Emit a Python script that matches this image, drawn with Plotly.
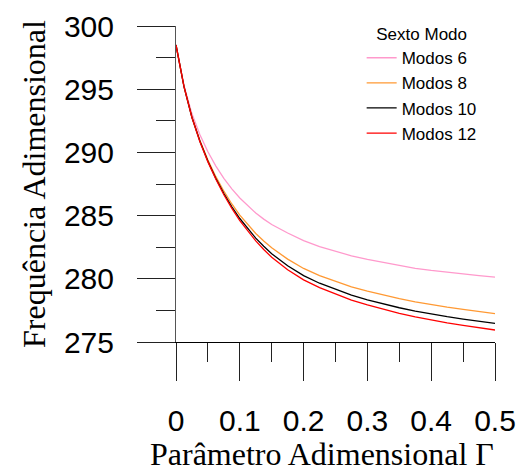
import plotly.graph_objects as go

# Parameter values (Gamma) at which frequencies were evaluated
gamma = [0, 0.0125, 0.025, 0.0375, 0.05, 0.0625, 0.075, 0.0875, 0.1, 0.1125, 0.125, 0.1375,
         0.15, 0.175, 0.2, 0.225, 0.25, 0.275, 0.3, 0.325, 0.35, 0.375, 0.4, 0.425, 0.45, 0.475, 0.5]

# Sixth-mode dimensionless frequency for different numbers of modes
modos_6 = [298.5, 295.3, 293.05, 291.4, 290.05, 288.92, 287.95, 287.12, 286.39, 285.76, 285.2, 284.72,
           284.3, 283.62, 283.02, 282.55, 282.16, 281.82, 281.53, 281.28, 281.04, 280.83, 280.66, 280.51,
           280.37, 280.25, 280.13]
modos_8 = [298.5, 295.22, 292.8, 290.95, 289.4, 288.08, 286.93, 285.92, 285.03, 284.26, 283.58, 282.99,
           282.45, 281.56, 280.82, 280.25, 279.78, 279.37, 279.03, 278.72, 278.43, 278.18, 277.96, 277.76,
           277.58, 277.41, 277.25]
modos_10 = [298.5, 295.2, 292.76, 290.88, 289.3, 287.94, 286.75, 285.7, 284.77, 283.95, 283.22, 282.57,
            281.98, 281.03, 280.25, 279.65, 279.15, 278.71, 278.34, 278.01, 277.71, 277.44, 277.21, 277.0,
            276.81, 276.635, 276.47]
modos_12 = [298.5, 295.2, 292.75, 290.85, 289.25, 287.87, 286.65, 285.57, 284.61, 283.76, 283.0, 282.32,
            281.7, 280.72, 279.92, 279.3, 278.78, 278.32, 277.93, 277.58, 277.26, 276.98, 276.74, 276.52,
            276.32, 276.13, 275.95]

series_names = ["Modos 6", "Modos 8", "Modos 10", "Modos 12"]
series_colors = ["#ff99cc", "#ff9933", "#000000", "#ff0000"]
series_values = [modos_6, modos_8, modos_10, modos_12]

x_ticks = [0, 0.1, 0.2, 0.3, 0.4, 0.5]
x_ticklabels = ["0", "0.1", "0.2", "0.3", "0.4", "0.5"]
y_ticks = [275, 280, 285, 290, 295, 300]

fig = go.Figure()
for name, color, vals in zip(series_names, series_colors, series_values):
    fig.add_trace(go.Scatter(
        x=gamma, y=vals, name=name, mode="lines",
        line=dict(color=color, width=1.3),
    ))

sans = "Liberation Sans, Arial, sans-serif"
serif = "Liberation Serif, Times New Roman, serif"

fig.update_layout(
    width=525, height=472,
    margin=dict(l=176, r=30, t=26, b=130),
    paper_bgcolor="white", plot_bgcolor="white",
    showlegend=True,
    legend=dict(
        x=0.582, y=1.025, xanchor="left", yanchor="top",
        bgcolor="rgba(0,0,0,0)",
        font=dict(family=sans, size=17, color="black"),
        title=dict(text="Sexto Modo", side="top center",
                   font=dict(family=sans, size=17, color="black")),
    ),
    xaxis=dict(
        range=[0, 0.5], showgrid=False, zeroline=False, automargin=False,
        showline=True, linecolor="black", linewidth=1,
        tickmode="array", tickvals=x_ticks, ticktext=x_ticklabels,
        ticks="outside", ticklen=38, tickwidth=1, tickcolor="#222",
        ticklabelstandoff=14,
        minor=dict(dtick=0.05, ticks="outside", ticklen=19, tickwidth=1,
                   tickcolor="#222", showgrid=False),
        tickfont=dict(family=sans, size=30, color="black"),
    ),
    yaxis=dict(
        range=[275, 300], showgrid=False, zeroline=False, automargin=False,
        showline=True, linecolor="#555", linewidth=1,
        tickmode="array", tickvals=y_ticks,
        ticks="outside", ticklen=38, tickwidth=1, tickcolor="#222",
        ticklabelstandoff=17,
        minor=dict(dtick=2.5, ticks="outside", ticklen=19, tickwidth=1,
                   tickcolor="#222", showgrid=False),
        tickfont=dict(family=sans, size=30, color="black"),
        title=dict(text="Frequência Adimensional", standoff=8,
                   font=dict(family=serif, size=32, color="black")),
    ),
    annotations=[dict(
        text="Parâmetro Adimensional Γ", xref="paper", yref="paper",
        x=0.458, y=-0.354, xanchor="center", yanchor="middle", showarrow=False,
        font=dict(family=serif, size=32, color="black"),
    )],
)

fig.write_html("out.html")
